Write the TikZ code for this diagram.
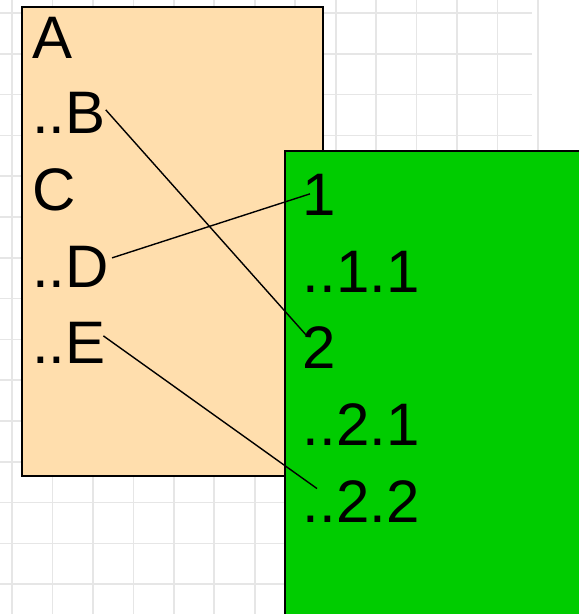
\documentclass[tikz,border=0pt]{standalone}
\usepackage{fontspec}
\setmainfont{Liberation Sans}
\definecolor{gridgray}{HTML}{E6E6E6}
\definecolor{peach}{HTML}{FFDEAD}
\definecolor{boxgreen}{HTML}{00CC00}
\tikzset{
  lbl/.style={anchor=base west, inner sep=0pt, font=\fontsize{60}{72}\selectfont},
  panel/.style={draw=black, line width=1.3pt},
  link/.style={draw=black, line width=1.4pt},
}
\begin{document}
\begin{tikzpicture}[x=1pt,y=-1pt]
\useasboundingbox (0,0) rectangle (579,614);
\fill[white] (0,0) rectangle (579,614);
% grid
\foreach \k in {0,...,13} {
  \draw[gridgray, line width=1.7pt] ({12+40.46*\k},0) -- ({12+40.46*\k},614);
}
\foreach \k in {0,...,14} {
  \draw[gridgray, line width=1.7pt] (0,{13+40.8*\k}) -- (532,{13+40.8*\k});
}
% panels
\path[panel, fill=peach] (22,7) rectangle (323,476);
\path[panel, fill=boxgreen] (285,151) rectangle (590,630);
% left texts
\node[lbl] (nA) at (32,58) {A};
\node[lbl] (nB) at (32,133) {..B};
\node[lbl] (nC) at (32,210) {C};
\node[lbl] (nD) at (32,287) {..D};
\node[lbl] (nE) at (32,363) {..E};
% right texts
\node[lbl] (n1) at (302.5,215) {1};
\node[lbl] (n11) at (302.5,292) {..1.1};
\node[lbl] (n2) at (302.5,368) {2};
\node[lbl] (n21) at (302.5,445) {..2.1};
\node[lbl] (n22) at (302.5,522) {..2.2};
% connectors
\draw[link] ([yshift=2.5pt]nB.east) -- ([xshift=5pt,yshift=10.5pt]n2.west);
\draw[link] ([xshift=3pt,yshift=8.5pt]nD.east) -- ([xshift=7.5pt,yshift=0.5pt]n1.west);
\draw[link] ([xshift=-2.4pt,yshift=6.5pt]nE.east) -- ([xshift=14.5pt,yshift=12.5pt]n22.west);
\end{tikzpicture}
\end{document}
